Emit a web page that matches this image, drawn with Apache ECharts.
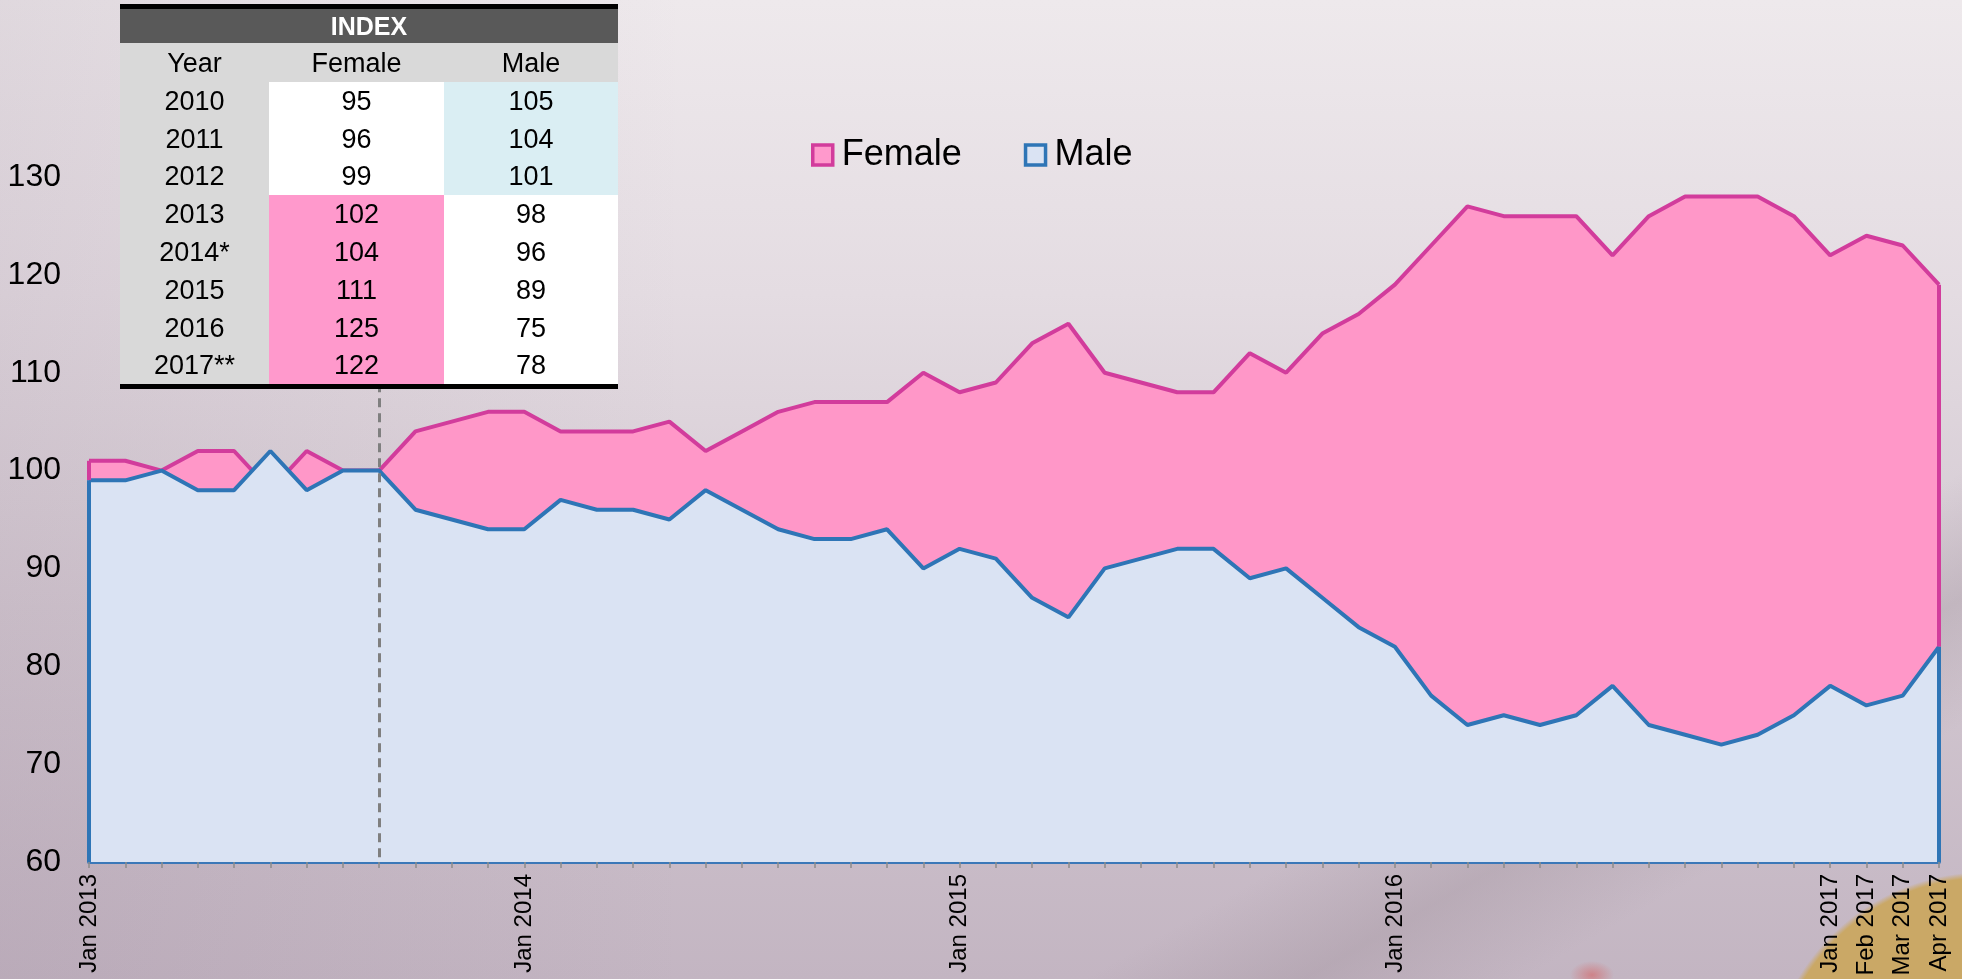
<!DOCTYPE html>
<html>
<head>
<meta charset="utf-8">
<title>Index Female / Male</title>
<script src="https://cdn.jsdelivr.net/npm/echarts@6/dist/echarts.min.js"></script>
<style>
  html, body {
    margin: 0;
    padding: 0;
    width: 1962px;
    height: 979px;
    overflow: hidden;
    font-family: "Liberation Sans", Arial, sans-serif;
  }
  body {
    position: relative;
    background:
      radial-gradient(circle at 1985px 1090px, #caa866 0, #caa866 212px, rgba(202,168,102,0) 218px),
      radial-gradient(ellipse 22px 14px at 1592px 975px, rgba(215,90,90,0.55), rgba(215,90,90,0) 100%),
      linear-gradient(150deg, rgba(0,0,0,0) 76%, rgba(150,135,145,0.28) 82%, rgba(0,0,0,0) 88%),
      linear-gradient(to right, rgba(120,95,120,0.12), rgba(0,0,0,0) 35%),
      linear-gradient(to bottom, #eee9ec 0%, #e4dce2 30%, #d3c8d1 62%, #c3b5c2 100%);
  }
  #chart {
    position: absolute;
    left: 0;
    top: 0;
    width: 1962px;
    height: 979px;
  }
  .index-table {
    position: absolute;
    left: 120px;
    top: 4px;
    width: 498px;
    table-layout: fixed;
    border-collapse: collapse;
    border-top: 5px solid #000;
    border-bottom: 5px solid #000;
    font-size: 27px;
    color: #000;
    text-align: center;
  }
  .index-table td, .index-table th {
    padding: 0;
    line-height: 26px;
  }
  .index-table .title th {
    background: #595959;
    color: #fff;
    font-size: 25px;
    font-weight: bold;
    height: 34px;
  }
  .index-table .head td {
    background: #d9d9d9;
    height: 39px;
  }
  .index-table tbody td {
    height: 37.8px;
  }
  .index-table .yr { background: #d9d9d9; }
  .index-table .w { background: #fff; }
  .index-table .pink { background: #ff99cc; }
  .index-table .blue { background: #daeef3; }
</style>
</head>
<body>
<div id="chart"></div>
<table class="index-table" id="indexTable">
  <colgroup><col style="width:149px"><col style="width:175px"><col style="width:174px"></colgroup>
</table>

<script>
// monthly index, Jan 2013 .. Apr 2017
const monthNames = ['Jan','Feb','Mar','Apr','May','Jun','Jul','Aug','Sep','Oct','Nov','Dec'];
const months = [];
for (let y = 2013; y <= 2017; y++) {
  for (let m = 0; m < 12; m++) {
    if (y === 2017 && m > 3) break;
    months.push(monthNames[m] + ' ' + y);
  }
}

const female = [101,101,100,102,102,98,102,100,100,104,105,106,
                106,104,104,104,105,102,104,106,107,107,107,110,
                108,109,113,115,110,109,108,108,112,110,114,116,
                119,123,127,126,126,126,122,126,128,128,128,126,
                122,124,123,119];
const male = [99,99,100,98,98,102,98,100,100,96,95,94,
              94,97,96,96,95,98,96,94,93,93,94,90,
              92,91,87,85,90,91,92,92,89,90,87,84,
              82,77,74,75,74,75,78,74,73,72,73,75,
              78,76,77,82];

// which month labels are printed under the axis
const shownLabels = ['Jan 2013','Jan 2014','Jan 2015','Jan 2016','Jan 2017','Feb 2017','Mar 2017','Apr 2017'];
// month where the dashed marker sits (its top goes behind the table)
const markerMonth = 'Sep 2013';
const markerTop = 112;

// table in the top left corner
const tableYears = ['2010','2011','2012','2013','2014*','2015','2016','2017**'];
const tableFemale = [95,96,99,102,104,111,125,122];
const tableMale = [105,104,101,98,96,89,75,78];

// build the table
let html = '<thead><tr class="title"><th colspan="3">INDEX</th></tr></thead>';
html += '<tbody><tr class="head"><td class="yr">Year</td><td>Female</td><td>Male</td></tr>';
tableYears.forEach((yr, i) => {
  const fClass = tableFemale[i] > 100 ? 'w pink' : 'w';
  const mClass = tableMale[i] > 100 ? 'w blue' : 'w';
  html += '<tr><td class="yr">' + yr + '</td><td class="' + fClass + '">' + tableFemale[i] +
          '</td><td class="' + mClass + '">' + tableMale[i] + '</td></tr>';
});
html += '</tbody>';
document.getElementById('indexTable').insertAdjacentHTML('beforeend', html);

const first = months[0];
const last = months[months.length - 1];

let chart = echarts.init(document.getElementById('chart'));

let option = {
  animation: false,
  backgroundColor: 'transparent',
  textStyle: { fontFamily: '"Liberation Sans", Arial, sans-serif' },
  legend: {
    left: 806,
    top: 131,
    itemWidth: 20,
    itemHeight: 20,
    itemGap: 62,
    icon: 'rect',
    textStyle: { fontSize: 36, color: '#000', lineHeight: 38, padding: [0, 0, 0, 4] },
    data: [
      { name: 'Female', itemStyle: { color: '#ff99cc', borderColor: '#d23c9c', borderWidth: 3.5 } },
      { name: 'Male', itemStyle: { color: '#dae3f3', borderColor: '#2e75b6', borderWidth: 3.5 } }
    ]
  },
  grid: {
    left: 89,
    right: 23,
    top: 177,
    bottom: 117,
    containLabel: false
  },
  xAxis: {
    type: 'category',
    data: months,
    boundaryGap: false,
    axisLine: { show: true, lineStyle: { color: '#3b78b8', width: 4 } },
    axisTick: { show: true, interval: 0, length: 6, lineStyle: { color: '#8c8c8c', width: 1.5 } },
    axisLabel: {
      interval: (idx, val) => shownLabels.includes(val),
      rotate: 90,
      margin: 12,
      fontSize: 24,
      color: '#000'
    },
    splitLine: { show: false }
  },
  yAxis: {
    type: 'value',
    min: 60,
    max: 130,
    interval: 10,
    axisLine: { show: false },
    axisTick: { show: false },
    splitLine: { show: false },
    axisLabel: { fontSize: 32, color: '#000', margin: 28 }
  },
  series: [
    {
      name: 'Female',
      type: 'line',
      z: 2,
      data: female,
      symbol: 'none',
      lineStyle: { color: '#d23c9c', width: 4 },
      itemStyle: { color: '#d23c9c' },
      areaStyle: { color: '#ff97c8', opacity: 1, origin: 'start' },
      markLine: {
        silent: true,
        symbol: ['none', 'none'],
        label: { show: false },
        lineStyle: { color: '#d23c9c', width: 4, type: 'solid' },
        data: [
          [{ coord: [first, female[0]] }, { coord: [first, male[0]] }],
          [{ coord: [last, female[female.length - 1]] }, { coord: [last, male[male.length - 1]] }]
        ]
      }
    },
    {
      name: 'Male',
      type: 'line',
      z: 3,
      data: male,
      symbol: 'none',
      lineStyle: { color: '#2e75b6', width: 4 },
      itemStyle: { color: '#2e75b6' },
      areaStyle: { color: '#dae3f3', opacity: 1, origin: 'start' },
      markLine: {
        silent: true,
        symbol: ['none', 'none'],
        label: { show: false },
        data: [
          [{ coord: [first, male[0]], lineStyle: { color: '#2e75b6', width: 4, type: 'solid' } },
           { coord: [first, 60] }],
          [{ coord: [last, male[male.length - 1]], lineStyle: { color: '#2e75b6', width: 4, type: 'solid' } },
           { coord: [last, 60] }],
          // dashed marker
          [{ coord: [markerMonth, markerTop], lineStyle: { color: '#7f7f7f', width: 3, type: [9, 6] } },
           { coord: [markerMonth, 60] }]
        ]
      }
    }
  ]
};

chart.setOption(option);
</script>
</body>
</html>
